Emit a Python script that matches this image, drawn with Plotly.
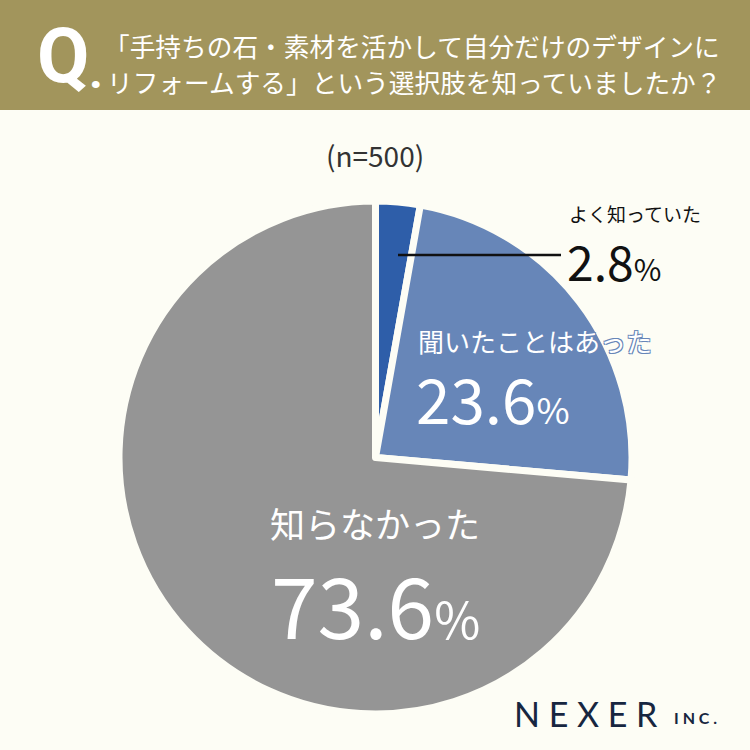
import plotly.graph_objects as go

labels = ["よく知っていた", "聞いたことはあった", "知らなかった"]
values = [2.8, 23.6, 73.6]
colors = ["#2e5ea9", "#6786b8", "#959595"]
question_lines = ["「手持ちの石・素材を活かして自分だけのデザインに",
                  "リフォームする」という選択肢を知っていましたか？"]
sample_note = "(n=500)"

W = H = 750
BG = "#fdfdf5"
JP = "Noto Sans CJK JP"

def px(x):
    return x / W

def py(y):
    return 1 - y / H

fig = go.Figure()
fig.add_trace(go.Pie(
    labels=labels, values=values, sort=False, direction="clockwise", rotation=0,
    marker=dict(colors=colors, line=dict(color=BG, width=7)),
    textinfo="none", hoverinfo="label+percent", showlegend=False,
    domain=dict(x=[px(119), px(632)], y=[py(714), py(201)]),
))

shapes = [
    dict(type="rect", xref="paper", yref="paper", x0=0, x1=1, y0=py(110), y1=1,
         fillcolor="#a2955c", line=dict(width=0), layer="below"),
    dict(type="line", xref="paper", yref="paper", x0=px(398), x1=px(561),
         y0=py(255), y1=py(255), line=dict(color="#111111", width=2.5)),
]

ann = []
ann.append(dict(text="<b>Q</b>", x=px(35), y=py(56), xanchor="left", yanchor="middle",
                font=dict(family="Roboto", size=76, color="white")))
ann.append(dict(text="<b>.</b>", x=px(87), y=py(72), xanchor="left", yanchor="middle",
                font=dict(family="Roboto", size=48, color="white")))
ann.append(dict(text=question_lines[0], x=px(102), y=py(45), xanchor="left", yanchor="middle",
                font=dict(family=JP, size=25.7, color="white")))
ann.append(dict(text=question_lines[1], x=px(105), y=py(82), xanchor="left", yanchor="middle",
                font=dict(family=JP, size=25.7, color="white")))
ann.append(dict(text=sample_note, x=0.5, y=py(155), xanchor="center", yanchor="middle",
                font=dict(family=JP, size=28, color="#333333")))

# small slice label
ann.append(dict(text=labels[0], x=px(567), y=py(213), xanchor="left", yanchor="middle",
                font=dict(family=JP, size=19, color="#111111")))
ann.append(dict(text=f"{values[0]}<span style='font-size:30px'>%</span>", x=px(565), y=py(260),
                xanchor="left", yanchor="middle",
                font=dict(family=JP, size=48, color="#111111")))

shadow_b = "1px 1px 0 #6786b8, -1px -1px 0 #6786b8, 1px -1px 0 #6786b8, -1px 1px 0 #6786b8"
ann.append(dict(text=labels[1], x=px(416), y=py(340), xanchor="left", yanchor="middle",
                font=dict(family=JP, size=26, color="white", shadow=shadow_b)))
ann.append(dict(text=f"{values[1]}<span style='font-size:36px'>%</span>", x=px(414), y=py(397),
                xanchor="left", yanchor="middle",
                font=dict(family=JP, size=62, color="white")))

ann.append(dict(text=labels[2], x=px(375), y=py(522), xanchor="center", yanchor="middle",
                font=dict(family=JP, size=35, color="white")))
ann.append(dict(text=f"{values[2]}<span style='font-size:50px'>%</span>", x=px(375), y=py(602),
                xanchor="center", yanchor="middle",
                font=dict(family=JP, size=84, color="white")))

ann.append(dict(text="N E X E R", x=px(512), y=py(713), xanchor="left", yanchor="middle",
                font=dict(family="Lato", size=34, color="#172640")))
ann.append(dict(text="<b>I N C .</b>", x=px(672), y=py(717), xanchor="left", yanchor="middle",
                font=dict(family="Lato", size=16, color="#172640")))

for a in ann:
    a.update(xref="paper", yref="paper", showarrow=False)

fig.update_layout(width=W, height=H, margin=dict(l=0, r=0, t=0, b=0),
                  paper_bgcolor=BG, plot_bgcolor=BG, shapes=shapes, annotations=ann)
fig.write_html("out.html")
